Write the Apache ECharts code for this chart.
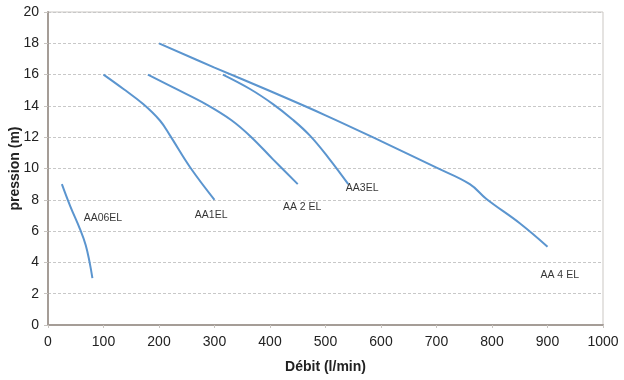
<!DOCTYPE html>
<html>
<head>
<meta charset="utf-8">
<script src="https://cdn.jsdelivr.net/npm/echarts@6/dist/echarts.min.js"></script>
<style>html,body{margin:0;padding:0;background:#fff}#c{width:624px;height:380px}</style>
</head>
<body>
<div id="c"></div>
<script>
var seriesNames = ['AA06EL', 'AA1EL', 'AA 2 EL', 'AA3EL', 'AA 4 EL'];
var aa06x = [25, 40, 58, 68, 75, 80];
var aa06y = [9, 7.6, 6.1, 5.1, 4.0, 3];
var aa1x = [100, 136, 172, 202, 220, 256, 300];
var aa1y = [16, 15.08, 14.1, 13.05, 12.1, 10.08, 8];
var aa2x = [180, 230, 285, 330, 365, 405, 450];
var aa2y = [16, 15.1, 14.1, 13.1, 12.05, 10.6, 9];
var aa3x = [315, 364, 406, 440, 472, 505, 541];
var aa3y = [16, 15.08, 14.1, 13.15, 12.1, 10.7, 9];
var aa4x = [200, 300, 400, 500, 600, 700, 760, 790, 850, 900];
var aa4y = [18, 16.45, 14.95, 13.4, 11.75, 10.05, 9.0, 8.05, 6.5, 5];
var xTicks = [0, 100, 200, 300, 400, 500, 600, 700, 800, 900, 1000];
var yTicks = [0, 2, 4, 6, 8, 10, 12, 14, 16, 18, 20];
// label anchor positions (data space)
var labelX = [99, 294, 458, 566, 922];
var labelY = [6.8, 7.0, 7.55, 8.75, 3.2];

function zip(xs, ys) { return xs.map(function (x, i) { return [x, ys[i]]; }); }
var xs = [aa06x, aa1x, aa2x, aa3x, aa4x];
var ys = [aa06y, aa1y, aa2y, aa3y, aa4y];

var series = seriesNames.map(function (n, i) {
  return {
    name: n, type: 'line', smooth: 0.4, symbol: 'none',
    data: zip(xs[i], ys[i]),
    lineStyle: { color: '#5b95cf', width: 2 }
  };
});
series.push({
  type: 'scatter', symbolSize: 0, silent: true,
  data: seriesNames.map(function (n, i) { return { value: [labelX[i], labelY[i]], name: n }; }),
  label: { show: true, position: 'inside', formatter: '{b}', color: '#000', fontSize: 10.5, fontFamily: 'Liberation Sans, Arial' }
});

var chart = echarts.init(document.getElementById('c'));
chart.setOption({
  animation: false,
  backgroundColor: '#fff',
  grid: { left: 48, right: 21, top: 12, bottom: 55, containLabel: false, outerBoundsMode: 'none', show: true, borderColor: '#cbc7c3', borderWidth: 1 },
  xAxis: {
    type: 'value', min: xTicks[0], max: xTicks[xTicks.length - 1], interval: 100,
    name: 'Débit (l/min)', nameLocation: 'middle', nameGap: 35, nameMoveOverlap: false,
    nameTextStyle: { fontWeight: 'bold', fontSize: 14, color: '#222', fontFamily: 'Liberation Sans, Arial' },
    axisLine: { show: true, lineStyle: { color: '#a59d97', width: 2 } },
    axisTick: { show: true, length: 3, lineStyle: { color: '#c8c4c0' } },
    axisLabel: { fontSize: 14, color: '#222', margin: 10, fontFamily: 'Liberation Sans, Arial', formatter: function (v) { return String(v); } },
    splitLine: { show: false }
  },
  yAxis: {
    type: 'value', min: yTicks[0], max: yTicks[yTicks.length - 1], interval: 2,
    name: 'pression (m)', nameLocation: 'middle', nameGap: 26, nameRotate: 90, nameMoveOverlap: false,
    nameTextStyle: { fontWeight: 'bold', fontSize: 14, color: '#222', fontFamily: 'Liberation Sans, Arial' },
    axisLine: { show: true, lineStyle: { color: '#a59d97', width: 2 } },
    axisTick: { show: true, length: 4, lineStyle: { color: '#c8c4c0' } },
    axisLabel: { fontSize: 14, color: '#222', margin: 9, fontFamily: 'Liberation Sans, Arial' },
    splitLine: { show: true, lineStyle: { color: '#c8c8c8', type: [3, 2], width: 1 } }
  },
  series: series
});
</script>
</body>
</html>
